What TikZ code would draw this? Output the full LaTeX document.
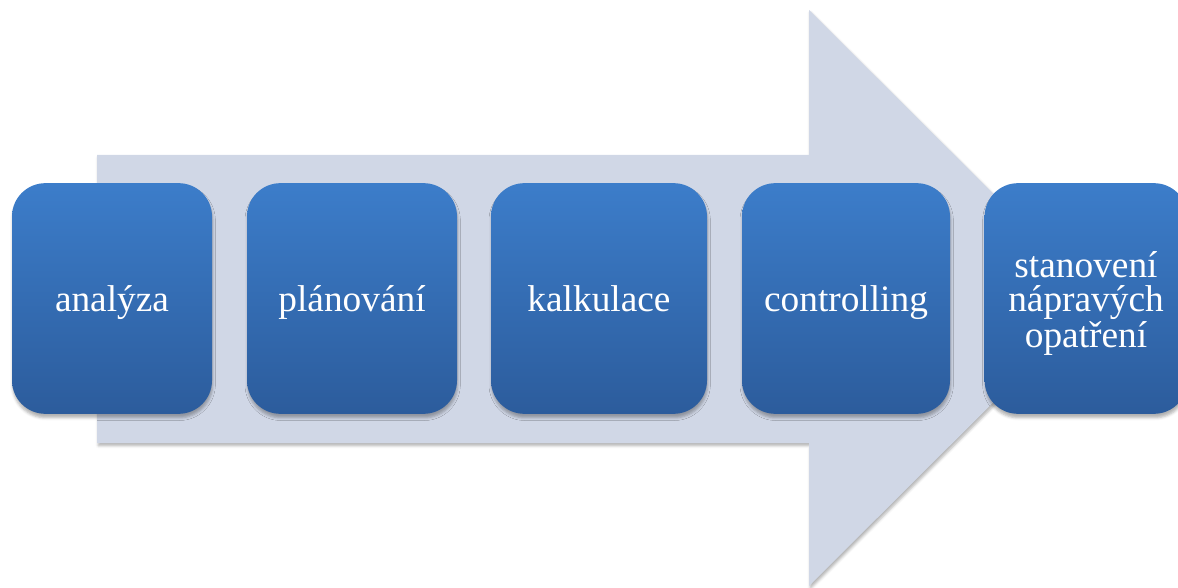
\documentclass[tikz,border=0pt]{standalone}
\usepackage{fontspec}
\setmainfont{Liberation Serif}
\usetikzlibrary{shadows.blur}
\definecolor{arrowfill}{HTML}{D0D7E6}
\definecolor{boxtop}{HTML}{3C7DCA}
\definecolor{boxbot}{HTML}{2C5C9C}
\tikzset{
  stage/.style={rectangle, rounded corners=25pt, inner sep=0pt,
    minimum height=173pt, text=white, align=center,
    font=\fontsize{28}{25.5}\selectfont,
    top color=boxtop, bottom color=boxbot,
    blur shadow={shadow xshift=0.5pt, shadow yshift=-3pt,
      shadow opacity=30, shadow blur radius=2pt}},
  oneline/.style={text height=22pt, text depth=3.2pt},
}
\begin{document}
\begin{tikzpicture}[x=0.75pt, y=-0.75pt]
\useasboundingbox (0,0) rectangle (1178,588);
\clip (0,0) rectangle (1178,588);
% broad process arrow behind the stages
\fill[arrowfill, blur shadow={shadow xshift=1pt, shadow yshift=-2pt, shadow opacity=30, shadow blur radius=2pt}]
  (97,155) -- (809,155) -- (809,10) -- (1098,298) -- (809,586)
  -- (809,443) -- (97,443) -- cycle;
% process stages
\node[stage, oneline, minimum width=150pt] (s1) at (112,298.5) {analýza};
\node[stage, oneline, minimum width=157.5pt] (s2) at (352,298.5) {plánování};
\node[stage, oneline, minimum width=162pt] (s3) at (599,298.5) {kalkulace};
\node[stage, oneline, minimum width=156pt] (s4) at (846,298.5) {controlling};
\node[stage, minimum width=152pt] (s5) at (1086,298.5)
  {\parbox[c][170pt][c]{150pt}{\centering\vspace*{7.5pt}stanovení\\nápravých\\opatření}};
\end{tikzpicture}
\end{document}
